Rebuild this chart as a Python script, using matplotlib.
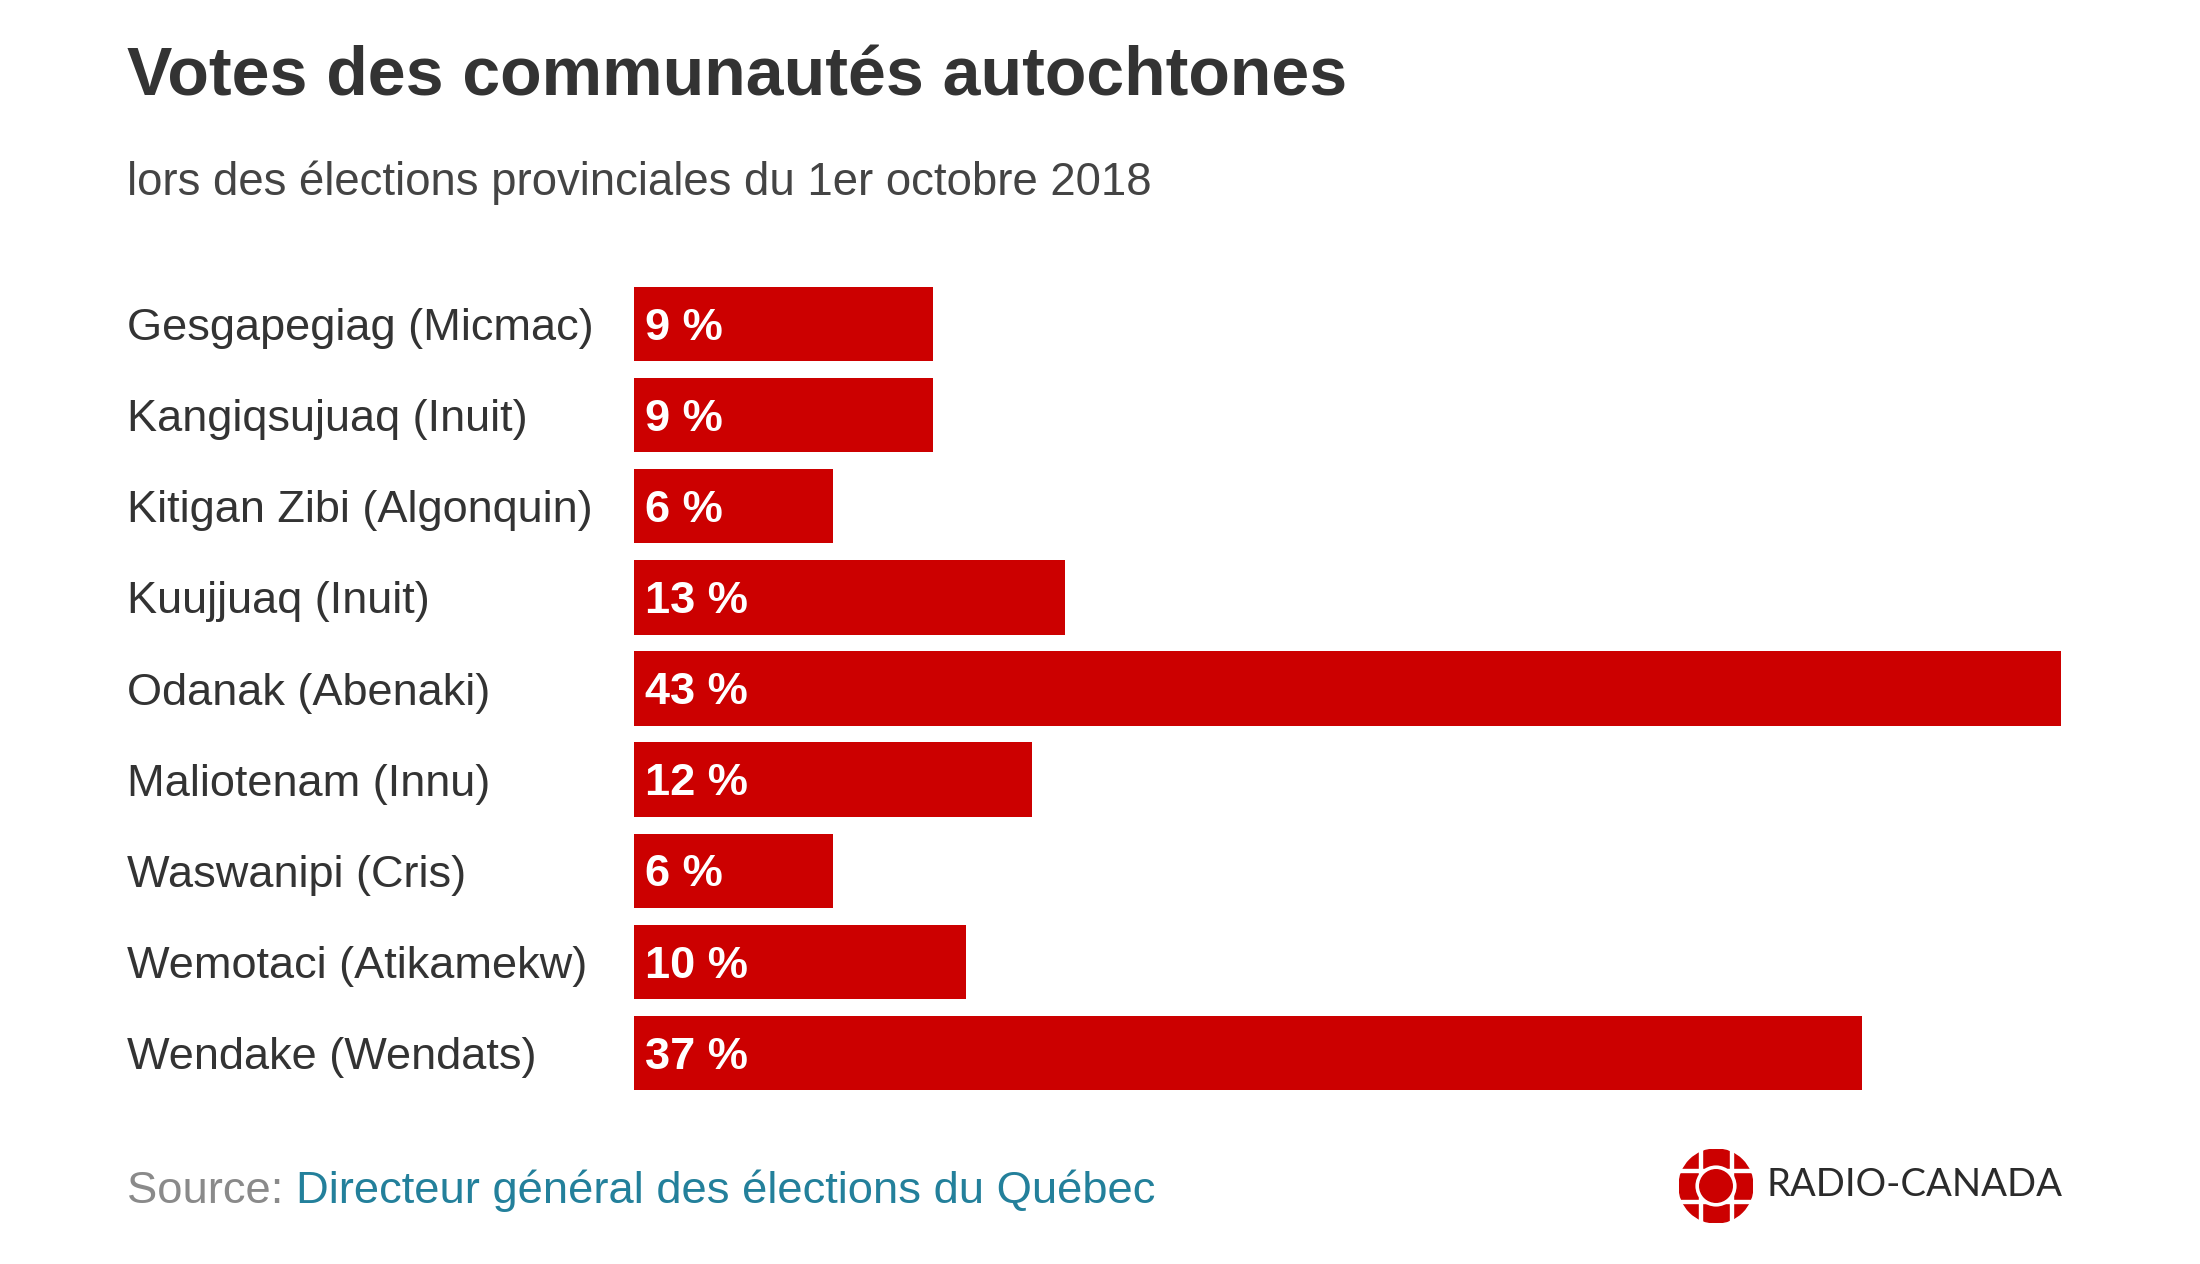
import matplotlib
matplotlib.use("Agg")
import matplotlib.pyplot as plt
from matplotlib.patches import Circle, Rectangle

# Données
communautes = ['Gesgapegiag (Micmac)', 'Kangiqsujuaq (Inuit)', 'Kitigan Zibi (Algonquin)',
               'Kuujjuaq (Inuit)', 'Odanak (Abenaki)', 'Maliotenam (Innu)',
               'Waswanipi (Cris)', 'Wemotaci (Atikamekw)', 'Wendake (Wendats)']
taux_vote = [9, 9, 6, 13, 43, 12, 6, 10, 37]

ROUGE = '#cc0000'
TEXTE = '#333333'
FONT = 'Liberation Sans'

W, H = 2200, 1264
fig = plt.figure(figsize=(W / 100, H / 100), dpi=100)
fig.patch.set_facecolor('white')

# Titre et sous-titre
fig.text(127 / W, 1 - 95 / H, 'Votes des communautés autochtones', fontsize=49,
         fontweight='bold', color=TEXTE, family=FONT, va='baseline', ha='left')
fig.text(127 / W, 1 - 195 / H, 'lors des élections provinciales du 1er octobre 2018',
         fontsize=32.8, color='#444444', family=FONT, va='baseline', ha='left')

# Barres horizontales
ax = fig.add_axes([634 / W, 0.1309, (2061 - 634) / W, 0.6488])
ypos = list(range(len(communautes)))
ax.barh(ypos, taux_vote, height=0.815, color=ROUGE)
ax.set_xlim(0, max(taux_vote))
ax.set_ylim(len(communautes) - 0.5, -0.5)
ax.set_yticks(ypos)
ax.set_yticklabels(communautes, ha='left', fontsize=32.5, color=TEXTE, family=FONT)
ax.tick_params(axis='y', length=0, pad=365)
ax.set_xticks([])
for s in ax.spines.values():
    s.set_visible(False)

for i, v in enumerate(taux_vote):
    ax.annotate(f'{v} %', xy=(0, i), xytext=(8, -3), textcoords='offset points',
                ha='left', va='center', fontsize=32.5, fontweight='bold',
                color='white', family=FONT)

# Source
t1 = fig.text(127 / W, 1 - 1212 / H, 'Source: ', fontsize=32.7, color='#8a8a8a',
              family=FONT, va='bottom', ha='left')
fig.canvas.draw()
bb = t1.get_window_extent()
fig.text(bb.x1 / W, bb.y0 / H, 'Directeur général des élections du Québec',
         fontsize=32.7, color='#23809b', family=FONT, va='bottom', ha='left')

# Logo Radio-Canada (approximation)
r = 37
cx, cy = 1716, 1186
gem = fig.add_axes([(cx - r) / W, 1 - (cy + r) / H, 2 * r / W, 2 * r / H])
gem.set_xlim(-1, 1)
gem.set_ylim(-1, 1)
gem.set_aspect('equal')
gem.axis('off')
gem.add_patch(Circle((0, 0), 1, color=ROUGE))
for c in (-0.42, 0.42):
    gem.add_patch(Rectangle((c - 0.04, -1.1), 0.08, 2.2, color='white'))
    gem.add_patch(Rectangle((-1.1, c - 0.04), 2.2, 0.08, color='white'))
gem.add_patch(Circle((0, 0), 0.5, facecolor='none', edgecolor='white', linewidth=3))
gem.add_patch(Circle((0, 0), 0.44, color=ROUGE))
fig.text(1766 / W, 1 - 1185 / H, 'RADIO-CANADA', fontsize=27.5, color='#2b2b2b',
         family='Lato', va='center', ha='left')

fig.savefig('out.png', dpi=100, facecolor='white')
